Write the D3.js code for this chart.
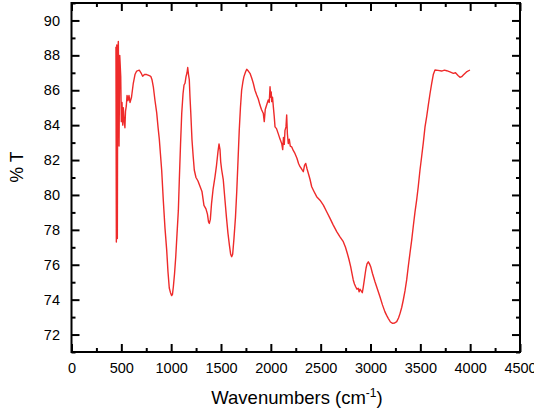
<!DOCTYPE html>
<html>
<head>
<meta charset="utf-8">
<script src="https://cdn.jsdelivr.net/npm/d3@7"></script>
<style>
  html, body { margin: 0; padding: 0; background: #fff; }
  svg { display: block; }
  text { font-family: "Liberation Sans", Arial, sans-serif; fill: #000; }
</style>
</head>
<body>
<svg id="chart" width="534" height="413"></svg>
<script>
// Wavenumbers (cm-1)
const wavenumbers = [446,450,454,460,464,470,477,484,494,500,507,514,520,527,536,542,550,557,567,577,587,602,620,637,654,680,697,714,732,754,775,795,808,821,838,855,868,881,893,905,921,938,955,968,981,993,1005,1013,1022,1034,1046,1059,1072,1082,1094,1106,1119,1129,1139,1149,1159,1166,1174,1182,1189,1197,1209,1221,1232,1249,1269,1289,1309,1329,1349,1364,1375,1383,1393,1405,1420,1440,1455,1470,1480,1490,1497,1507,1523,1540,1555,1570,1585,1597,1607,1617,1630,1645,1658,1671,1683,1695,1707,1720,1730,1746,1758,1774,1791,1808,1824,1841,1858,1874,1891,1906,1924,1934,1944,1958,1974,1984,1992,1999,2004,2009,2017,2025,2034,2042,2057,2075,2092,2109,2119,2127,2135,2142,2152,2159,2166,2175,2185,2195,2209,2225,2242,2262,2278,2293,2308,2326,2338,2350,2363,2376,2393,2410,2433,2460,2493,2527,2559,2594,2624,2661,2694,2727,2749,2767,2784,2801,2814,2827,2839,2851,2864,2877,2886,2894,2906,2918,2927,2938,2947,2955,2965,2978,2990,3002,3020,3045,3070,3095,3120,3145,3162,3178,3200,3222,3243,3263,3281,3296,3313,3329,3346,3363,3379,3396,3413,3429,3446,3463,3479,3496,3513,3530,3547,3564,3580,3597,3614,3630,3647,3677,3714,3742,3764,3797,3831,3853,3878,3898,3915,3931,3963,3998];
// % Transmittance
const transmittance = [88.5,77.3,88.6,77.5,88.2,88.8,82.8,88.0,86.8,84.2,85.3,84.0,85.0,84.3,83.85,84.8,85.1,85.7,85.4,85.7,85.3,85.6,86.4,86.9,87.1,87.15,87.0,86.8,86.9,86.9,86.85,86.8,86.6,86.2,85.4,84.7,83.9,83.2,82.3,81.4,79.7,78.1,76.85,75.6,74.67,74.4,74.23,74.3,74.74,75.5,76.46,77.8,79.1,80.9,82.9,84.68,85.8,86.3,86.4,86.78,87.0,87.3,86.9,86.59,85.6,84.68,83.15,82.2,81.43,81.0,80.8,80.5,80.2,79.4,79.2,78.9,78.45,78.37,78.6,79.5,80.3,81.05,81.7,82.5,82.92,82.6,81.9,81.43,80.86,79.7,78.7,77.8,77.1,76.6,76.46,76.6,77.5,78.7,80.2,82.0,83.7,85.0,86.0,86.5,86.78,87.05,87.2,87.1,86.97,86.7,86.4,86.0,85.73,85.5,85.15,84.9,84.68,84.2,84.9,85.15,85.44,85.3,86.2,85.6,85.9,85.35,85.6,85.06,84.5,83.9,83.8,83.5,83.2,82.95,82.6,83.3,82.9,83.7,83.9,84.58,83.5,82.95,83.2,82.8,82.76,82.55,82.38,82.1,81.8,81.62,81.5,81.33,81.7,81.81,81.5,81.24,80.9,80.47,80.2,79.9,79.7,79.42,79.05,78.66,78.3,77.9,77.6,77.32,77.0,76.66,76.3,75.89,75.5,75.13,74.9,74.74,74.6,74.65,74.45,74.6,74.5,74.4,74.7,75.13,75.5,75.8,76.05,76.17,76.05,75.89,75.5,75.03,74.6,74.17,73.7,73.3,73.1,72.93,72.72,72.64,72.66,72.74,72.95,73.2,73.55,73.98,74.5,75.13,75.9,76.66,77.4,78.19,79.0,79.7,80.47,81.4,82.19,83.0,83.9,84.5,85.15,85.8,86.4,86.9,87.16,87.14,87.1,87.15,87.12,87.05,86.97,87.0,86.85,86.74,86.78,86.87,87.05,87.16];
const xMajorTicks = [0,500,1000,1500,2000,2500,3000,3500,4000,4500];
const xMinorTicks = [250,750,1250,1750,2250,2750,3250,3750,4250];
const yMajorTicks = [72,74,76,78,80,82,84,86,88,90];
const yMinorTicks = [71,73,75,77,79,81,83,85,87,89,91];

const svg = d3.select("#chart");
const mLeft = 71.5, mRight = 520, mTop = 3, mBottom = 352;
const x = d3.scaleLinear().domain([0, 4500]).range([mLeft, mRight]);
const y = d3.scaleLinear().domain([71, 91]).range([mBottom, mTop]);

const data = wavenumbers.map((w, i) => [w, transmittance[i]]);

// curve
svg.append("path")
  .datum(data)
  .attr("fill", "none")
  .attr("stroke", "#ee2a2a")
  .attr("stroke-width", 1.4)
  .attr("stroke-linejoin", "round")
  .attr("d", d3.line().x(d => x(d[0])).y(d => y(d[1])));

function styleAxis(g) {
  g.select(".domain").remove();
  g.selectAll(".tick line").attr("stroke", "#000").attr("stroke-width", 2);
  g.selectAll("text").attr("font-size", "14.5px").attr("font-family", "Liberation Sans, Arial, sans-serif");
}

// bottom
svg.append("g").attr("transform", `translate(0,${mBottom})`)
  .call(d3.axisBottom(x).tickValues(xMajorTicks).tickFormat(d3.format("d")).tickSize(-8).tickSizeOuter(0).tickPadding(11))
  .call(styleAxis);
svg.append("g").attr("transform", `translate(0,${mBottom})`)
  .call(d3.axisBottom(x).tickValues(xMinorTicks).tickFormat("").tickSize(-4).tickSizeOuter(0))
  .call(styleAxis);
// top
svg.append("g").attr("transform", `translate(0,${mTop})`)
  .call(d3.axisTop(x).tickValues(xMajorTicks).tickFormat("").tickSize(-8).tickSizeOuter(0))
  .call(styleAxis);
svg.append("g").attr("transform", `translate(0,${mTop})`)
  .call(d3.axisTop(x).tickValues(xMinorTicks).tickFormat("").tickSize(-4).tickSizeOuter(0))
  .call(styleAxis);
// left
svg.append("g").attr("transform", `translate(${mLeft},0)`)
  .call(d3.axisLeft(y).tickValues(yMajorTicks).tickFormat(d3.format("d")).tickSize(-8).tickSizeOuter(0).tickPadding(11.5))
  .call(styleAxis);
svg.append("g").attr("transform", `translate(${mLeft},0)`)
  .call(d3.axisLeft(y).tickValues(yMinorTicks).tickFormat("").tickSize(-4).tickSizeOuter(0))
  .call(styleAxis);
// right
svg.append("g").attr("transform", `translate(${mRight},0)`)
  .call(d3.axisRight(y).tickValues(yMajorTicks).tickFormat("").tickSize(-8).tickSizeOuter(0))
  .call(styleAxis);
svg.append("g").attr("transform", `translate(${mRight},0)`)
  .call(d3.axisRight(y).tickValues(yMinorTicks).tickFormat("").tickSize(-4).tickSizeOuter(0))
  .call(styleAxis);

// frame
svg.append("rect")
  .attr("x", mLeft).attr("y", mTop)
  .attr("width", mRight - mLeft).attr("height", mBottom - mTop)
  .attr("fill", "none").attr("stroke", "#000").attr("stroke-width", 2);

// axis titles
const xt = svg.append("text")
  .attr("x", 297).attr("y", 404)
  .attr("text-anchor", "middle").attr("font-size", "18.5px");
xt.append("tspan").text("Wavenumbers (cm");
xt.append("tspan").attr("font-size", "12px").attr("dy", "-7").text("-1");
xt.append("tspan").attr("dy", "7").text(")");

svg.append("text")
  .attr("transform", "translate(23,167) rotate(-90)")
  .attr("text-anchor", "middle").attr("font-size", "17.5px")
  .text("% T");
</script>
</body>
</html>
